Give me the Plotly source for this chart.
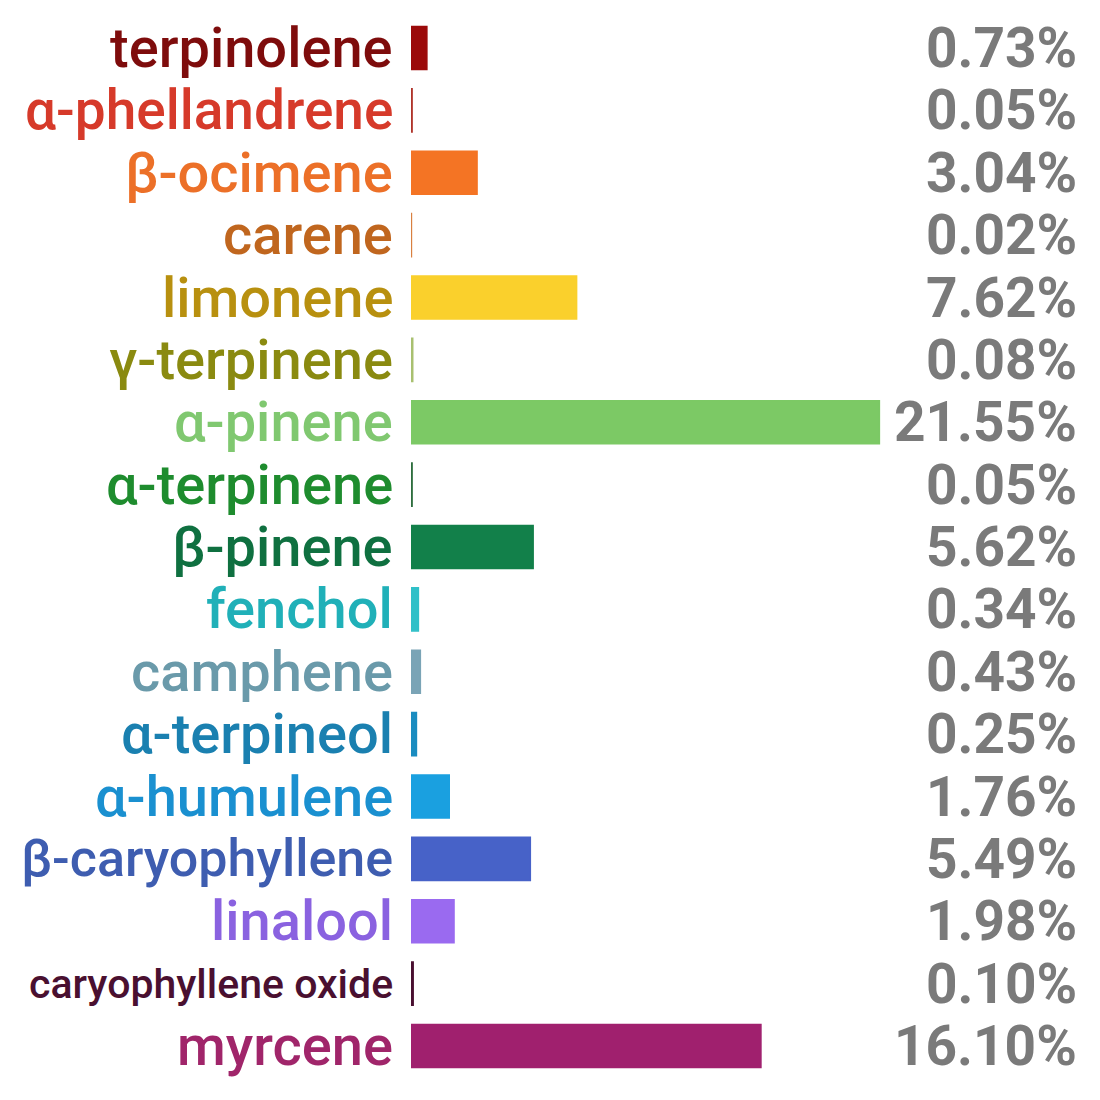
import plotly.graph_objects as go

terpenes = ["terpinolene", "α-phellandrene", "β-ocimene", "carene", "limonene",
            "γ-terpinene", "α-pinene", "α-terpinene", "β-pinene", "fenchol",
            "camphene", "α-terpineol", "α-humulene", "β-caryophyllene", "linalool",
            "caryophyllene oxide", "myrcene"]
percent = [0.73, 0.05, 3.04, 0.02, 7.62, 0.08, 21.55, 0.05, 5.62, 0.34,
           0.43, 0.25, 1.76, 5.49, 1.98, 0.10, 16.10]
bar_colors = ["#9B0A0A", "#B0342A", "#F47424", "#D98040", "#FAD02C",
              "#A8C070", "#7CC965", "#2E6E3E", "#12804A", "#30C0C8",
              "#7AA4B6", "#1A8CC0", "#1AA0E0", "#4762C8", "#9A6AF0",
              "#4A1030", "#A0206E"]
label_colors = ["#7E0C0C", "#D63A2A", "#EC7028", "#C0661E", "#B8900F",
                "#8A8A10", "#80C870", "#1E8C2E", "#0F7040", "#20B0B8",
                "#6A9AAA", "#1A80B0", "#1A90D0", "#3E5DB0", "#8A62E0",
                "#4A1030", "#A0256A"]
label_sizes = [56] * 17
label_sizes[1] = 55
label_sizes[13] = 52
label_sizes[15] = 41

fig = go.Figure()
fig.add_trace(go.Bar(
    y=terpenes, x=percent, orientation="h",
    marker=dict(color=bar_colors, line=dict(color=bar_colors, width=1.5)),
    width=0.69, hoverinfo="x+y"))

for name, val, col, sz in zip(terpenes, percent, label_colors, label_sizes):
    fig.add_annotation(x=0, y=name, xref="x", yref="y", text=name,
                       showarrow=False, xanchor="right", yanchor="middle",
                       xshift=-16, font=dict(family="Roboto", size=sz, color=col, weight=500))
    fig.add_annotation(x=1, y=name, xref="paper", yref="y", text=f"{val:.2f}%",
                       showarrow=False, xanchor="right", yanchor="middle",
                       xshift=-21, font=dict(family="Roboto", size=55, color="#7A7A7A", weight=700))

fig.update_layout(
    width=1100, height=1100,
    margin=dict(l=0, r=0, t=13, b=19),
    paper_bgcolor="white", plot_bgcolor="white",
    showlegend=False, bargap=0.31,
    xaxis=dict(domain=[411/1100, 1], range=[0, 31.7], visible=False, fixedrange=True),
    yaxis=dict(autorange="reversed", visible=False, fixedrange=True),
)

fig.write_html("out.html", config={"displayModeBar": False},
               post_script="document.body.style.margin='0';")
